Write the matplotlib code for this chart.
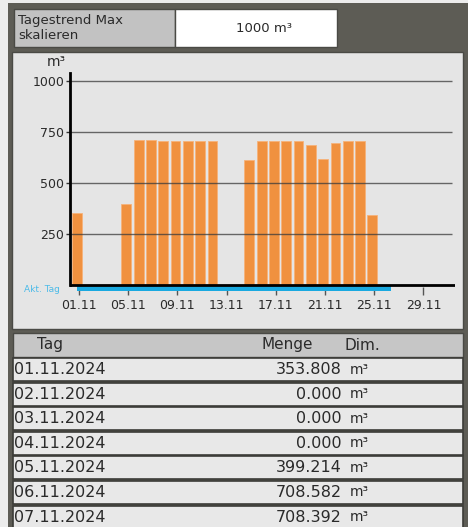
import matplotlib.pyplot as plt
from matplotlib.patches import Rectangle

# Tageswerte November 2024 (m3)
tage = list(range(1, 26))
menge = [353.808, 0.0, 0.0, 0.0, 399.214, 708.582, 708.392, 708.0, 708.0, 708.0,
         708.0, 708.0, 0.0, 0.0, 612.0, 708.0, 708.0, 708.0, 708.0, 688.0,
         618.0, 697.0, 708.0, 708.0, 345.0]
akt_tag = 26
xticks = [1, 5, 9, 13, 17, 21, 25, 29]
xlabels = ['01.11', '05.11', '09.11', '13.11', '17.11', '21.11', '25.11', '29.11']
yticks = [250, 500, 750, 1000]
skala = '1000 m³'

tabelle_datum = ['01.11.2024', '02.11.2024', '03.11.2024', '04.11.2024',
                 '05.11.2024', '06.11.2024', '07.11.2024']
tabelle_menge = menge[:7]

W, H = 468, 527
dunkel = '#5d5c55'
hell = '#e5e5e5'
orange = '#f0913f'
blau = '#1aa9e0'
text = '#2a2a2a'

fig = plt.figure(figsize=(W / 100, H / 100), dpi=100)
fig.patch.set_facecolor('#ececec')

# Rahmen, Kopfzeile und Tabelle in Pixelkoordinaten
ui = fig.add_axes([0, 0, 1, 1])
ui.set_xlim(0, W)
ui.set_ylim(H, 0)
ui.axis('off')

ui.add_patch(Rectangle((8, 3), W - 8, H - 3, facecolor=dunkel, edgecolor='none'))
ui.add_patch(Rectangle((14, 9), 161, 38, facecolor='#c2c2c2', edgecolor='#4a4a45', lw=1))
ui.add_patch(Rectangle((175, 9), 162, 38, facecolor='white', edgecolor='#4a4a45', lw=1))
ui.text(18, 28, 'Tagestrend Max\nskalieren', fontsize=9.5, color=text, va='center',
        ha='left', linespacing=1.15)
ui.text(264, 28, skala, fontsize=9.5, color=text, va='center', ha='center')

ui.add_patch(Rectangle((12, 52), 451, 277, facecolor=hell, edgecolor='#4a4a45', lw=1))
ui.text(24, 290, 'Akt. Tag', fontsize=6.5, color='#4dbbe8', va='center', ha='left')
ui.text(56, 62, 'm³', fontsize=10, color=text, va='center', ha='center')

ui.add_patch(Rectangle((13, 333), 450, 24, facecolor='#c6c6c6', edgecolor='#4a4a45', lw=1))
ui.text(50, 345, 'Tag', fontsize=11, color=text, va='center', ha='center')
ui.text(287, 345, 'Menge', fontsize=11, color=text, va='center', ha='center')
ui.text(362, 345, 'Dim.', fontsize=11, color=text, va='center', ha='center')

for i, (d, m) in enumerate(zip(tabelle_datum, tabelle_menge)):
    y0 = 358 + i * 24.6
    ui.add_patch(Rectangle((13, y0), 450, 23, facecolor='#e8e8e8',
                           edgecolor='#3c3c38', lw=1.2))
    yc = y0 + 11.5
    ui.text(14, yc, d, fontsize=11.5, color=text, va='center', ha='left')
    ui.text(342, yc, f'{m:.3f}', fontsize=11.5, color=text, va='center', ha='right')
    ui.text(350, yc, 'm³', fontsize=10, color=text, va='center', ha='left')

# Balkendiagramm
px_tag = 12.3
x_links = 1 + (70 - 79) / px_tag
x_rechts = 1 + (455 - 79) / px_tag
px_wert = 204 / 1000
y_unten = (285 - 295) / px_wert / 1
y_oben = (285 - 73) / px_wert

ax = fig.add_axes([70 / W, 1 - 295 / H, (455 - 70) / W, (295 - 73) / H])
ax.patch.set_alpha(0)
ax.set_xlim(x_links, x_rechts)
ax.set_ylim(y_unten, y_oben)

ax.bar([t - 0.15 for t in tage], menge, width=0.8, color=orange,
       edgecolor='#f6b27a', linewidth=0.6, zorder=2)
ax.hlines(yticks, x_links, 1 + (452 - 79) / px_tag, color='#3a3a3a',
          linewidth=1, alpha=0.75, zorder=3)

ax.add_patch(Rectangle((0.8, -27), akt_tag + 0.4 - 0.8, 23, facecolor=blau,
                       edgecolor='none', zorder=3))
ax.axhline(0, color='black', linewidth=2, zorder=4)

for s in ['top', 'right', 'bottom']:
    ax.spines[s].set_visible(False)
ax.spines['left'].set_bounds(0, y_oben)
ax.spines['left'].set_linewidth(2)
ax.spines['left'].set_zorder(4)

ax.set_yticks(yticks)
ax.set_yticklabels([str(v) for v in yticks])
ax.tick_params(axis='y', length=3, width=1, color='#333333', labelsize=9,
               labelcolor=text, pad=1)
ax.set_xticks(xticks)
ax.set_xticklabels(xlabels)
ax.tick_params(axis='x', direction='in', length=6, width=1, color='#555555',
               labelsize=9, labelcolor=text, pad=3)

fig.savefig('out.png', dpi=100)
